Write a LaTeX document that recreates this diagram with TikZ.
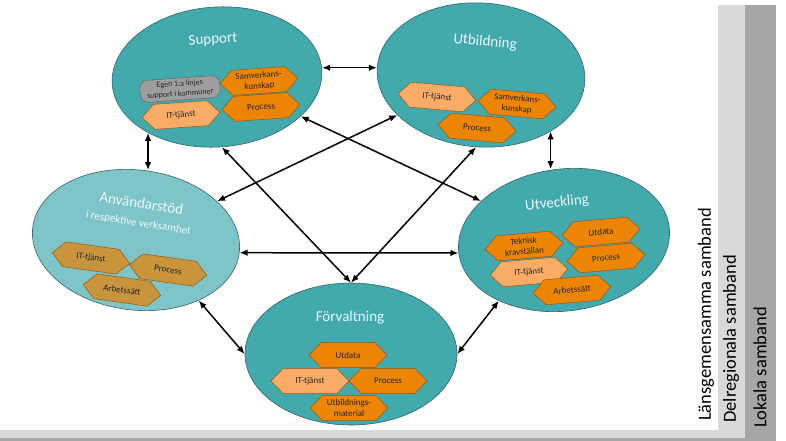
\documentclass[tikz,border=0pt]{standalone}
\usepackage{fontspec}
\setmainfont{Carlito}
\usetikzlibrary{shapes.geometric,shapes.symbols,arrows.meta}

\definecolor{zonefill}{RGB}{66,170,173}
\definecolor{zonelight}{RGB}{127,197,199}
\definecolor{zoneline}{RGB}{52,98,104}
\definecolor{hexorange}{RGB}{236,133,4}
\definecolor{hexpale}{RGB}{250,172,102}
\definecolor{hextan}{RGB}{200,149,60}
\definecolor{hexline}{RGB}{150,88,18}
\definecolor{bandlight}{RGB}{217,217,217}
\definecolor{banddark}{RGB}{166,166,166}

\tikzset{
  zone/.style={ellipse, draw=zoneline, line width=0.6pt, fill=zonefill, inner sep=0pt},
  ztitle/.style={text=white!92!cyan, font=\fontsize{15}{18}\selectfont, align=center},
  hexa/.style={signal, signal to=east and west, signal pointer angle=92, draw=hexline, line width=0.5pt,
    fill=hexorange, minimum width=78, minimum height=25, inner sep=1pt, align=center,
    text=black!85, font=\fontsize{9}{10.5}\selectfont},
  hexpl/.style={hexa, fill=hexpale},
  hextn/.style={hexa, fill=hextan},
  pill/.style={rounded corners=8pt, draw=black!60, line width=0.5pt, fill=black!38, minimum width=80,
    minimum height=22, inner sep=1pt, align=center, text=black!85, font=\fontsize{8}{10}\selectfont},
  link/.style={{Latex[length=8pt,width=6.5pt]}-{Latex[length=8pt,width=6.5pt]}, line width=1.5pt},
  bandtext/.style={rotate=90, anchor=west, inner sep=0pt, font=\fontsize{18.5}{20}\selectfont}
}

\begin{document}
\begin{tikzpicture}[x=1pt,y=1pt,yscale=-1]
\useasboundingbox (0,0) rectangle (786,441);
\fill[white] (0,0) rectangle (786,441);

%Background bands
\fill[bandlight] (718,5) rectangle (745,441);
\fill[banddark] (745,5) rectangle (776,441);
\fill[bandlight] (0,430) rectangle (745,438);
\fill[banddark] (0,438) rectangle (745,441);

% Text Node
\node[bandtext] (lans) at (706,421) {Länsgemensamma samband};
\node[bandtext] (delreg) at (731,423) {Delregionala samband};
\node[bandtext] (lokal) at (760,428) {Lokala samband};

%Shape: Ellipse
\node[zone, minimum width=210, minimum height=140, rotate=4] (sup) at (217,77) {};
\node[zone, minimum width=208, minimum height=144, rotate=-4] (utb) at (481,75) {};
\node[zone, fill=zonelight, minimum width=208, minimum height=140, rotate=-7] (anv) at (136,240) {};
\node[zone, minimum width=212, minimum height=142, rotate=7] (utv) at (564,240) {};
\node[zone, minimum width=212, minimum height=142] (forv) at (351,354) {};

% Text Node
\node[ztitle, rotate=4] (supt) at (213,40) {Support};
\node[ztitle, rotate=-5] (utbt) at (485,42) {Utbildning};
\node[ztitle, rotate=-9] (anvt) at (140,213) {Användarstöd\\{\fontsize{11}{12}\selectfont i respektive verksamhet}};
\node[ztitle, rotate=6] (utvt) at (557,203) {Utveckling};
\node[ztitle] (forvt) at (350,318) {Förvaltning};

%Support
\node[pill, rotate=4] (sup1) at (180,89) {Egen 1:a linjes\\support i kommuner};
\node[hexa, rotate=4] (sup2) at (259,81) {Samverkans-\\kunskap};
\node[hexa, rotate=4] (sup3) at (261,107) {Process};
\node[hexpl, rotate=4] (sup4) at (181,115) {IT-tjänst};

%Utbildning
\node[hexpl, rotate=-5] (utb1) at (437,97) {IT-tjänst};
\node[hexa, rotate=-5] (utb2) at (517,104) {Samverkans-\\kunskap};
\node[hexa, rotate=-5] (utb3) at (477,128) {Process};

%Anvandarstod
\node[hextn, rotate=-8] (anv1) at (91,258) {IT-tjänst};
\node[hextn, rotate=-8] (anv2) at (168,270) {Process};
\node[hextn, rotate=-8] (anv3) at (122,290) {Arbetssätt};

%Utveckling
\node[hexa, rotate=5] (utv1) at (524,246) {Teknisk\\kravställan};
\node[hexa, rotate=5] (utv2) at (601,232) {Utdata};
\node[hexpl, rotate=5] (utv3) at (529,272) {IT-tjänst};
\node[hexa, rotate=5] (utv4) at (606,258) {Process};
\node[hexa, rotate=5] (utv5) at (572,290) {Arbetssätt};

%Forvaltning
\node[hexa] (forv1) at (348,355) {Utdata};
\node[hexpl] (forv2) at (310,381) {IT-tjänst};
\node[hexa] (forv3) at (388,381) {Process};
\node[hexa] (forv4) at (349,408) {Utbildnings-\\material};

%Straight Lines
\draw[link] (utb.west -| sup.east) -- (utb.west);
\draw[link] (sup.215) -- (sup.215 |- anv.north);
\draw[link] (utb.325) -- (utb.325 |- utv.north);
\draw[link] (sup) -- (utv);
\draw[link] (utb) -- (anv);
\draw[link] (sup.south) -- (forv.north);
\draw[link] (utb.south) -- (forv.north);
\draw[link] (anv.east) -- (utv.west);
\draw[link] (anv.323) -- (forv.west);
\draw[link] (utv.216) -- (forv.east);

\end{tikzpicture}
\end{document}
